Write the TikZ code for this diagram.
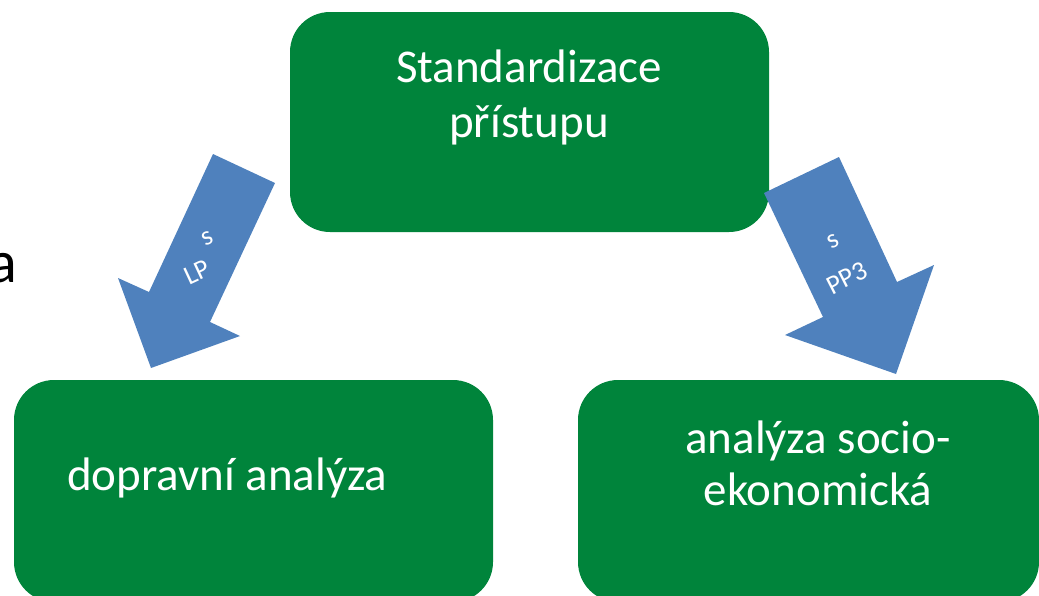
\documentclass[tikz,border=0pt]{standalone}
\usepackage{fontspec}
\setmainfont{Carlito}
\definecolor{boxgreen}{RGB}{0,132,59}
\definecolor{arrowblue}{RGB}{79,129,189}
\tikzset{
  gbox/.style={fill=boxgreen, draw=none, rounded corners=40pt, inner sep=0pt},
  boxtext/.style={text=white, font=\fontsize{47}{56}\selectfont, inner sep=0pt, anchor=base},
  arrtext/.style={text=white, font=\fontsize{27}{30}\selectfont, inner sep=0pt},
  blockarrow/.style={fill=arrowblue, draw=none}
}
\begin{document}
\begin{tikzpicture}[x=1pt,y=-1pt]
\useasboundingbox (0,0) rectangle (1039,595);
\clip (0,0) rectangle (1039,595);
% boxes
\node[gbox, minimum width=479pt, minimum height=220pt] (top) at (529.5,122) {};
\node[gbox, minimum width=479pt, minimum height=222pt] (left) at (253.5,491) {};
\node[gbox, minimum width=461pt, minimum height=222pt] (right) at (808.5,491) {};
% box texts
\node[boxtext] (t1) at (529,82) {Standardizace};
\node[boxtext] (t2) at (529,137) {přístupu};
\node[boxtext, anchor=base west] (l1) at (67,490) {dopravní analýza};
\node[boxtext] (r1) at (818,453) {analýza socio-};
\node[boxtext] (r2) at (818,505) {ekonomická};
% stray letter at left edge
\node[text=black, font=\fontsize{60}{70}\selectfont, inner sep=0pt, anchor=base east] (a) at (17,282) {a};
% left block arrow
\fill[blockarrow] (213,154) -- (275,183) -- (210,322) -- (240,336) -- (151,368) -- (118,278) -- (149,292) -- cycle;
\node[arrtext, rotate=25] (ls) at (208,238) {s};
\node[arrtext, rotate=25] (llp) at (197,272) {LP};
% right block arrow
\fill[blockarrow] (764,193) -- (839,157) -- (897,282) -- (934,265) -- (896,374) -- (785,335) -- (823,317) -- cycle;
\node[arrtext, rotate=27] (rs) at (833,241) {s};
\node[arrtext, rotate=27] (rpp) at (847,278) {PP3};
\end{tikzpicture}
\end{document}
